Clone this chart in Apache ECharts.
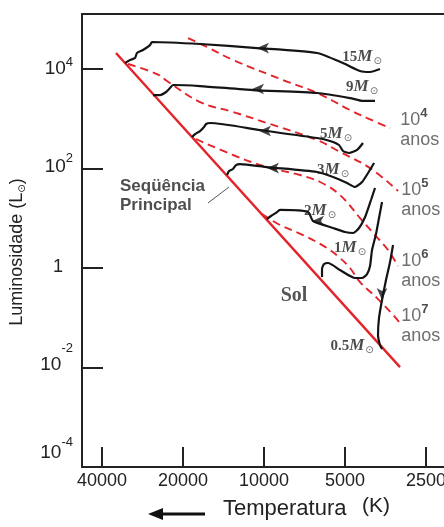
<!DOCTYPE html>
<html><head><meta charset="utf-8">
<script src="https://cdn.jsdelivr.net/npm/echarts@6/dist/echarts.min.js"></script>
<style>html,body{margin:0;padding:0;background:#fff}#c{width:444px;height:527px}</style>
</head><body><div id="c"></div>
<script>
// ---------- DATA (temperature K, luminosity L_sun) ----------
const tempTicks = [40000, 20000, 10000, 5000, 2500];
const lumTickExps = [-4, -2, 0, 2, 4];

const mainSequence = [[35500, 21000], [3123, 0.0102]];

const track15 = [[3707,10000],[4036,8710],[4397,9120],[5087,13200],[6352,21000],[10620,26400],[17290,31800],[26080,34900],[26520,30300],[28170,24100],[29650,21000],[30170,16600],[31470,15200],[32840,13200]];
const track9 = [[3868,2280],[4288,2280],[4790,2610],[6352,3300],[10990,3780],[17290,4550],[21790,4770],[22350,4150],[23130,3450],[24350,3000],[25850,3000]];
const track5 = [[4288,326],[4511,236],[4831,205],[5087,225],[5263,297],[5683,357],[6352,410],[10350,594],[15870,822],[16420,784],[16710,682],[17290,567],[18050,493],[18520,430]];
const track3 = [[3899,129],[4105,81.3],[4321,53.6],[4591,42.5],[4915,51.2],[5540,67.5],[6352,85.1],[9750,107],[12280,123],[12710,117],[13040,97.7],[13490,89],[13730,74]];
const track2 = [[3868,40.6],[4003,23.3],[4211,10.6],[4434,6.37],[4667,5.05],[5000,5.30],[5540,6.37],[6576,8.81],[6863,13.4],[8720,14.7],[9030,12.8],[9420,11.1],[9750,9.66]];
const track1 = [[3643,21.2],[3738,10.1],[3835,4.82],[3968,2.30],[4036,1.10],[4141,0.757],[4321,0.630],[4591,0.630],[5220,0.911],[5782,1.26],[5982,1.20],[6088,0.955],[6088,0.659]];
const track05 = [[3315,2.90],[3401,1.32],[3521,0.574],[3643,0.228],[3738,0.0989],[3770,0.045],[3707,0.0283],[3643,0.0235]];

const iso4 = [[19160,42000],[16290,27700],[13040,15200],[8495,6010],[6352,3300],[4790,1500],[4141,1035],[3401,652]];
const iso5 = [[32030,12600],[24980,7930],[22940,5740],[17290,2170],[13040,1370],[9750,822],[6352,374],[5220,215],[4036,102],[3177,35.3]];
const iso6 = [[17900,392],[13040,187],[9750,107],[7350,74],[6192,53.6],[5220,29.3],[4397,10.1],[3868,4.60],[3460,2.30],[3177,1.10]];
const iso7 = [[10170,12.2],[8720,7.31],[7165,4.60],[5831,2.52],[5220,1.59],[4790,1.0],[4397,0.523],[3802,0.249],[3315,0.114],[3123,0.0783]];

// track direction arrows: [T, L, direction]
const arrowPoints = [[10620,26400,'left'],[11080,3960,'left'],[10440,567,'left'],[9750,102,'left'],[6630,8.81,'left'],[3643,0.228,'down']];

const massNames = ['15','9','5','3','2','1','0.5'];
const massLabelAt = [[4321,17400],[4321,4350],[5400,493],[5540,93.3],[6192,14.0],[4790,2.52],[4710,0.027]];
const isoExps = ['4','5','6','7'];
const isoLabelAt = [[3120,594],[3090,23.3],[3090,0.871],[3090,0.0682]];
const sunLabelAt = [7735,0.273];
const msLabelAt = [34300,28];
const msPointer = [[16150,20.3],[13490,42.5]];

// ---------- CHART ----------
const lg = Math.log10;
const toXY = arr => arr.map(p => [lg(p[0]), lg(p[1])]);
const RED = '#e3232a';
const INK = '#141414';
const AX = '#222';
const xMin = 3.3311, xMax = 4.6765, yMin = -4, yMax = 5.106;

const xTickVals = tempTicks.map(t => lg(t));
const yRaise = {'4':[0,7],'2':[2,10],'-2':[3,19],'-4':[14,25]};
const yRich = { one: {fontFamily:'Liberation Sans', fontSize:18, color:'#222', padding:[0,10,2,0]} };
lumTickExps.forEach(e => {
  if (e === 0) return;
  const k = String(e).replace('-', 'm');
  const r = yRaise[String(e)];
  yRich['b' + k] = {fontFamily:'Liberation Sans', fontSize:19, color:'#222', padding:[0,0,2*r[0],0]};
  yRich['s' + k] = {fontFamily:'Liberation Sans', fontSize:13, color:'#222', padding:[0,0,2*r[1],0]};
});

const trackSeries = [track15, track9, track5, track3, track2, track1, track05].map(t => ({
  type:'line', data: toXY(t), showSymbol:false, smooth:0.2, silent:true, z:5,
  lineStyle:{color:INK, width:2.2}
}));
const isoSeries = [iso4, iso5, iso6, iso7].map(t => ({
  type:'line', data: toXY(t), showSymbol:false, smooth:0.4, silent:true, z:3,
  lineStyle:{color:RED, width:1.9, type:[8,5]}
}));

const option = {
  animation:false,
  backgroundColor:'#fff',
  grid:{left:82, top:14, right:0, bottom:60, containLabel:false, outerBoundsMode:'none'},
  xAxis:[{
    type:'value', inverse:true, min:xMin, max:xMax,
    axisLine:{show:true, onZero:false, lineStyle:{color:AX, width:2}},
    axisTick:{show:true, inside:true, length:20, customValues:xTickVals, lineStyle:{color:AX, width:2}},
    axisLabel:{show:true, customValues:xTickVals, margin:5, fontFamily:'Liberation Sans', fontSize:18, color:'#222',
      formatter: v => { const t = tempTicks.find(tt => Math.abs(lg(tt) - v) < 1e-6); return t === undefined ? '' : String(t); }},
    splitLine:{show:false}
  },{
    type:'value', inverse:true, min:xMin, max:xMax, position:'top',
    axisLine:{show:true, onZero:false, lineStyle:{color:AX, width:2}},
    axisTick:{show:false}, axisLabel:{show:false}, splitLine:{show:false}
  }],
  yAxis:{
    type:'value', min:yMin, max:yMax,
    axisLine:{show:true, onZero:false, lineStyle:{color:AX, width:2}},
    axisTick:{show:true, inside:true, length:21, customValues:lumTickExps, lineStyle:{color:AX, width:2}},
    axisLabel:{show:true, customValues:lumTickExps, margin:9, rich:yRich,
      formatter: v => { const e = Math.round(v); if (e === 0) return '{one|1}'; const k = String(e).replace('-','m'); return '{b'+k+'|10}{s'+k+'|'+e+'}'; }},
    splitLine:{show:false}
  },
  series:[
    ...isoSeries,
    {type:'line', data: toXY(mainSequence), showSymbol:false, silent:true, z:4, lineStyle:{color:RED, width:2.4}},
    {type:'line', data: toXY(msPointer), showSymbol:false, silent:true, z:4, lineStyle:{color:'#555', width:1}},
    ...trackSeries,
    {type:'scatter', silent:true, z:6,
      data: arrowPoints.map(p => ({value:[lg(p[0]), lg(p[1])], symbolRotate: p[2] === 'left' ? 90 : 180})),
      symbol:'arrow', symbolSize:[8,12], itemStyle:{color:INK}},
    {type:'scatter', silent:true, z:7, symbolSize:0,
      data: massNames.map((n, i) => ({value:[lg(massLabelAt[i][0]), lg(massLabelAt[i][1])], name:n})),
      label:{show:true, position:'inside', formatter: p => '{n|' + p.name + '}{m|M}{o|⊙}',
        rich:{
          n:{fontFamily:'Liberation Serif', fontWeight:'bold', fontSize:15, color:'#1e1e1e'},
          m:{fontFamily:'Liberation Serif', fontWeight:'bold', fontStyle:'italic', fontSize:17, color:'#1e1e1e'},
          o:{fontFamily:'DejaVu Sans', fontSize:10, color:'#444', padding:[9,0,0,1]}
        }}},
    {type:'scatter', silent:true, z:7, symbolSize:0,
      data: isoExps.map((e, i) => ({value:[lg(isoLabelAt[i][0]), lg(isoLabelAt[i][1])], name:e})),
      label:{show:true, position:'right', distance:0, align:'left', formatter: p => '{b|10}{s|' + p.name + '}\n{a|anos}',
        rich:{
          b:{fontFamily:'Liberation Sans', fontSize:18, color:'#4a4a4a', lineHeight:20},
          s:{fontFamily:'Liberation Sans', fontWeight:'bold', fontSize:13, color:'#222', padding:[0,0,14,0], lineHeight:20},
          a:{fontFamily:'Liberation Sans', fontSize:18, color:'#4a4a4a', lineHeight:19}
        }}},
    {type:'scatter', silent:true, z:7, symbolSize:0,
      data:[{value:[lg(sunLabelAt[0]), lg(sunLabelAt[1])], name:'Sol'}],
      label:{show:true, position:'inside', formatter:'{b}', fontFamily:'Liberation Serif', fontWeight:'bold', fontSize:20, color:'#2a2a2a'}},
    {type:'scatter', silent:true, z:7, symbolSize:0,
      data:[{value:[lg(msLabelAt[0]), lg(msLabelAt[1])], name:'Seqüência\nPrincipal'}],
      label:{show:true, position:'right', distance:0, align:'left', formatter:'{b}', fontFamily:'Liberation Sans', fontWeight:'bold', fontSize:17, lineHeight:19, color:'#222'}}
  ],
  graphic:[
    {type:'text', x:17, y:252, rotation:Math.PI/2,
      style:{text:'{a|Luminosidade (L}{s|⊙}{a|)}', align:'center', verticalAlign:'middle',
        rich:{a:{fontFamily:'Liberation Sans', fontSize:18, fill:'#222'}, s:{fontFamily:'DejaVu Sans', fontSize:10, fill:'#222', padding:[10,0,0,0]}}}},
    {type:'line', shape:{x1:160, y1:514, x2:205, y2:514}, style:{stroke:'#111', lineWidth:3}},
    {type:'polygon', shape:{points:[[148,514],[163,508],[163,520]]}, style:{fill:'#111'}},
    {type:'text', x:223, y:509, style:{text:'Temperatura', fontFamily:'Liberation Sans', fontSize:22, fill:'#222', verticalAlign:'middle'}},
    {type:'text', x:362, y:506, style:{text:'(K)', fontFamily:'Liberation Sans', fontSize:21, fill:'#222', verticalAlign:'middle'}}
  ]
};
const chart = echarts.init(document.getElementById('c'));
chart.setOption(option);
</script>
</body></html>
